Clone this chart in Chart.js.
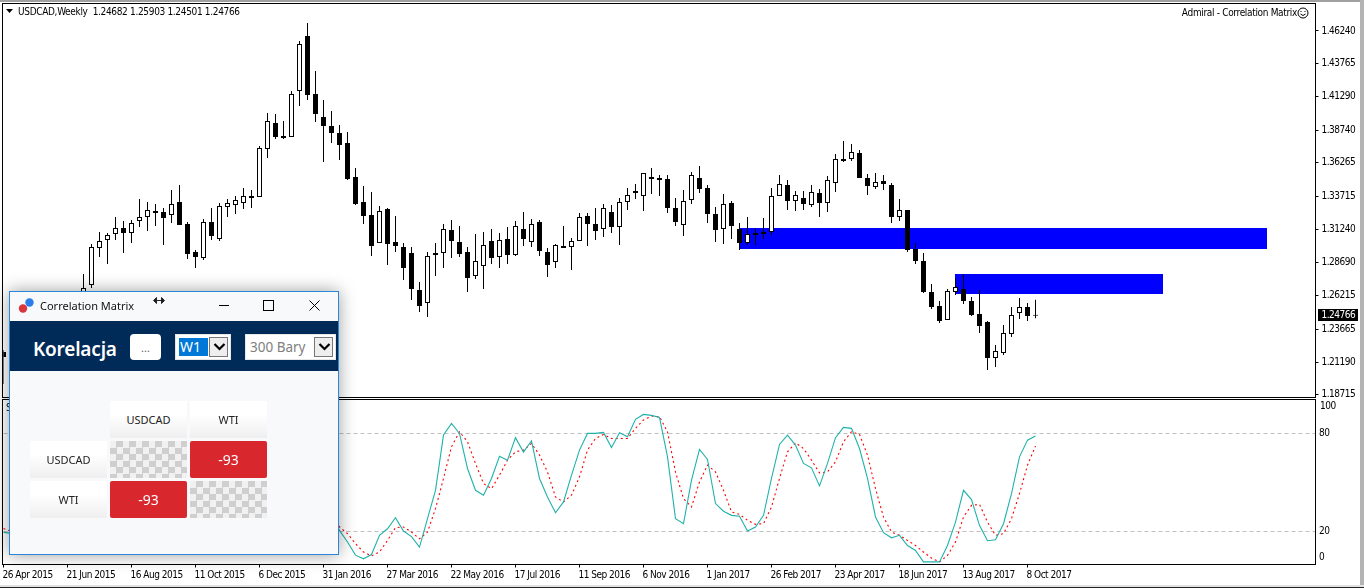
<!DOCTYPE html>
<html>
<head>
<meta charset="utf-8">
<title>USDCAD Weekly</title>
<script src="https://cdn.jsdelivr.net/npm/chart.js@4/dist/chart.umd.min.js"></script>
<style>
html,body{margin:0;padding:0;background:#fff;width:1364px;height:588px;overflow:hidden}
canvas{position:absolute;left:0}
#priceChart{top:0}
#stochChart{top:398px}
.edge{position:absolute}
.mt4{position:absolute;font:10px "DejaVu Sans Condensed","Liberation Sans",sans-serif;letter-spacing:-.33px;color:#000;white-space:pre;line-height:12px}
#dlg{position:absolute;left:9px;top:291px;width:328px;height:262px;border:1px solid #2a86d6;background:#f8f9fb;box-shadow:0 0 16px rgba(0,0,0,.38);font-family:"Noto Sans",sans-serif;overflow:hidden}
#dlg div,#dlg svg{position:absolute}
.hdr{background:#002a57}
.cell{width:77px;height:37px;line-height:37px;text-align:center;font-size:11px;color:#222;background:linear-gradient(#fff 35%,#efefef)}
.neg{background:#d9272e;color:#fff;font-size:14px;border-radius:2px}
.self{background:repeating-conic-gradient(#cfcfcf 0 25%,#f1f1f1 0 50%) 0 0/13px 13px}
.drop{background:#fff;border:1px solid #e6e6e6;box-sizing:border-box}
.arrow{background:#eee;border:1px solid #777;box-sizing:border-box;width:20px;height:20px}
</style>
</head>
<body>
<canvas id="priceChart" width="1364" height="400"></canvas>
<canvas id="stochChart" width="1364" height="186"></canvas>

<div class="edge" style="left:0;top:0;width:1364px;height:2px;background:#a0a0a0"></div>
<div class="edge" style="left:1360px;top:0;width:4px;height:585px;background:#b4b4b4"></div>
<div class="edge" style="left:0;top:585px;width:1364px;height:2px;background:#e2e2e2"></div>
<div class="edge" style="left:0;top:587px;width:1364px;height:1px;background:#222"></div>

<svg class="edge" style="left:6px;top:9px" width="8" height="5"><path d="M0 0H7L3.5 4Z" fill="#000"/></svg>
<div class="mt4" id="quote" style="left:18px;top:6px"></div>
<div class="mt4" id="robot" style="right:67px;top:7px"></div>
<svg class="edge" style="left:1297px;top:7px" width="12" height="12"><circle cx="6" cy="6" r="5" fill="none" stroke="#000"/><path d="M3.5 7Q6 10 8.500 7" fill="none" stroke="#000"/><path d="M4 4v1M8 4v1" stroke="#000"/></svg>
<div class="mt4" id="stochName" style="left:6px;top:402px"></div>

<div id="dlg"></div>

<script>
// USDCAD weekly bars, oldest first. First ones sit behind the dialog, so those are estimates
const opens = [1.21948,1.21948,1.22478,1.23234,1.22705,1.23612,1.24521,1.23915,1.24521,1.25580,
  1.24975,1.27018,1.29818,1.30423,1.30877,1.31332,1.30953,1.31861,1.32164,1.32618,
  1.32543,1.32316,1.33300,1.31634,1.29515,1.29061,1.31786,1.30499,1.32921,1.33073,
  1.33224,1.33753,1.33677,1.37310,1.39278,1.38294,1.38218,1.41699,1.45862,1.41472,
  1.39731,1.39051,1.38521,1.37764,1.35191,1.33300,1.32316,1.30196,1.32770,1.30272,
  1.29893,1.29440,1.26640,1.25656,1.29288,1.29440,1.31180,1.30272,1.29515,1.27699,
  1.28456,1.30347,1.29137,1.30499,1.29288,1.31256,1.30272,1.31786,1.29515,1.28758,
  1.29969,1.29893,1.30347,1.32240,1.31634,1.31256,1.32543,1.31407,1.33300,1.33980,
  1.33753,1.35040,1.34964,1.35040,1.32846,1.31559,1.33451,1.35116,1.34359,1.32391,
  1.31256,1.33224,1.31256,1.30196,1.30953,1.31029,1.31029,1.33753,1.34586,1.33375,
  1.33602,1.33073,1.33980,1.33224,1.34737,1.36553,1.36553,1.37007,1.35116,1.34434,
  1.34888,1.34586,1.32164,1.32694,1.29742,1.28834,1.26488,1.25429,1.24369,1.26488,
  1.26715,1.25807,1.24823,1.24218,1.21493,1.21872,1.23309,1.24899,1.25353,1.24682];
const highs = [1.22099,1.22856,1.23612,1.23764,1.24521,1.24975,1.24975,1.25504,1.26034,1.25883,
  1.27850,1.30120,1.31029,1.30953,1.32164,1.31861,1.31937,1.33526,1.33300,1.33148,
  1.32846,1.34207,1.34586,1.31786,1.29667,1.32013,1.32846,1.33224,1.33526,1.33753,
  1.34359,1.34207,1.37537,1.40034,1.39958,1.39429,1.41699,1.45483,1.46845,1.43213,
  1.41018,1.40186,1.39127,1.38597,1.35872,1.34510,1.34056,1.32997,1.32846,1.32240,
  1.30196,1.29893,1.27245,1.29515,1.30196,1.31634,1.31937,1.31483,1.29893,1.30877,
  1.31029,1.31256,1.30953,1.31407,1.31861,1.32543,1.32013,1.31937,1.29818,1.30120,
  1.31483,1.30575,1.32467,1.32467,1.32846,1.33148,1.33073,1.33602,1.34359,1.34661,
  1.35494,1.35872,1.35343,1.35343,1.33602,1.34207,1.35570,1.36024,1.34586,1.32921,
  1.33904,1.33375,1.31710,1.32164,1.31256,1.32089,1.34359,1.35343,1.34964,1.34131,
  1.34131,1.34586,1.34283,1.35267,1.36932,1.37915,1.37688,1.37234,1.35418,1.35494,
  1.35343,1.34737,1.33526,1.32694,1.30196,1.29440,1.27093,1.25807,1.26715,1.27547,
  1.27850,1.26110,1.26640,1.24293,1.22478,1.23991,1.25353,1.26034,1.25656,1.25903];
const lows = [1.19526,1.21493,1.22099,1.22251,1.22402,1.23158,1.23309,1.23612,1.24066,1.24218,
  1.24672,1.26791,1.29137,1.28607,1.30423,1.29440,1.30196,1.31407,1.31104,1.31483,
  1.30045,1.31710,1.31559,1.28985,1.28304,1.28910,1.30423,1.30347,1.32164,1.32391,
  1.32770,1.32846,1.33677,1.36630,1.38067,1.38067,1.38218,1.40564,1.41018,1.39353,
  1.36326,1.37764,1.36478,1.34964,1.33073,1.31634,1.29212,1.30196,1.28531,1.29515,
  1.27396,1.25883,1.24975,1.24596,1.27699,1.28304,1.29061,1.29137,1.26488,1.27472,
  1.26715,1.28607,1.28304,1.28607,1.29212,1.29969,1.29893,1.29212,1.27623,1.28304,
  1.29818,1.28153,1.30347,1.29969,1.30423,1.30650,1.30953,1.30045,1.32694,1.33526,
  1.32618,1.33904,1.33753,1.32467,1.31483,1.30726,1.33148,1.33980,1.31710,1.30272,
  1.30120,1.30499,1.29667,1.30045,1.30045,1.30499,1.30802,1.33753,1.32694,1.32618,
  1.32694,1.32921,1.32164,1.32543,1.34056,1.36326,1.36402,1.35116,1.33829,1.34283,
  1.34207,1.31710,1.31861,1.29515,1.28607,1.26413,1.25201,1.24142,1.24369,1.26261,
  1.25580,1.24672,1.23385,1.20585,1.20812,1.21721,1.23082,1.24445,1.24293,1.24501];
const closes = [1.21569,1.22705,1.23234,1.22705,1.23991,1.24521,1.23915,1.25126,1.25580,1.24975,
  1.26791,1.29893,1.30347,1.30802,1.31332,1.30953,1.31710,1.32164,1.32694,1.32467,
  1.32089,1.33148,1.31559,1.29364,1.29137,1.31786,1.30726,1.32997,1.33224,1.33451,
  1.33753,1.33602,1.37386,1.39429,1.38218,1.38143,1.41472,1.45256,1.41397,1.39958,
  1.39051,1.38521,1.37613,1.35040,1.33148,1.32240,1.29969,1.32618,1.30120,1.29969,
  1.28304,1.26715,1.25429,1.29212,1.29440,1.31256,1.30347,1.29364,1.27547,1.28834,
  1.30045,1.29061,1.30423,1.29288,1.31483,1.30499,1.31634,1.29591,1.28531,1.30045,
  1.29818,1.30347,1.32164,1.31634,1.31104,1.32846,1.31407,1.33300,1.33829,1.34131,
  1.35494,1.35191,1.35116,1.32846,1.31786,1.33375,1.35343,1.34283,1.32391,1.31180,
  1.33148,1.31483,1.30196,1.30877,1.30802,1.30877,1.33753,1.34661,1.33375,1.33829,
  1.33148,1.34056,1.33224,1.34964,1.36553,1.36402,1.37083,1.35116,1.34510,1.34813,
  1.34661,1.32164,1.32694,1.29667,1.28834,1.26488,1.25353,1.24293,1.26564,1.26867,
  1.25807,1.24748,1.23915,1.21493,1.22023,1.23385,1.24748,1.25353,1.24672,1.24766];

// stochastic main (teal) and signal (red), up to index 41 hidden behind the dialog
const stochMain = [19.6,19.0,30,45,60,72,80,76,70,74,82,90,88,85,84,80,72,68,74,78,70,66,60,42,34,40,48,60,70,75,80,82,85,90,92,88,90,91,80,62,48,32,
  20.8,13.7,5.7,3.5,6.1,17.8,21.8,28.6,20.4,17.0,10.6,28.0,45.3,79.0,86.1,80.0,58.6,45.3,42.3,52.5,66.1,63.7,77.4,68.6,75.5,52.5,41.2,31.6,38.2,54.5,69.8,80.0,80.0,80.6,71.4,80.4,78.0,88.6,91.6,91.0,89.8,65.7,28.0,24.9,51.5,70.2,
  64.1,37.2,32.5,30.0,29.4,20.4,22.9,30.0,52.5,73.3,79.0,72.9,61.7,59.0,48.0,61.7,77.4,83.7,83.1,70.8,52.5,29.0,19.4,16.3,17.8,11.6,8.6,1.6,1.6,1.6,11.6,25.9,45.3,39.6,23.9,14.5,15.1,24.9,43.3,65.7,75.9,78.4];
const stochSignal = [22,20,24,32,45,60,70,76,75,73,75,82,88,88,86,84,79,73,71,73,74,72,66,56,45,38,41,49,59,68,75,79,82,85,89,90,90,90,87,78,63,45,
  22.9,18.8,12.7,7.6,5.3,7.6,14.7,22.5,22.9,19.8,15.7,19.8,34.1,52.5,71.9,81.0,74.9,61.7,49.4,46.3,54.5,63.7,68.8,69.8,73.9,66.8,56.5,41.2,38.2,42.3,53.5,69.8,76.9,79.4,76.9,76.9,76.9,83.1,88.2,90.6,90.2,81.0,56.5,40.2,35.1,50.4,
  60.6,56.5,45.3,32.1,30.6,27.0,24.5,24.9,35.1,52.5,68.8,74.3,70.8,63.7,55.9,56.5,62.7,74.9,81.0,79.4,66.8,46.3,29.0,19.8,17.8,14.7,11.6,7.6,3.9,1.6,5.5,13.7,29.0,36.1,36.7,25.9,17.8,18.8,28.0,43.3,60.6,72.3];

// blue supply zones: bar index from/to and price top/bottom
const zoneFrom = [92,119];
const zoneTo = [158,145];
const zoneTop = [1.31332,1.27850];
const zoneBottom = [1.29742,1.26337];

const priceTicks = [1.46240,1.43765,1.41290,1.38740,1.36265,1.33715,1.31240,1.28690,1.26215,1.23665,1.21190,1.18715];
const stochLevels = [0,20,80,100];

const symbol = 'USDCAD,Weekly';
const robotName = 'Admiral - Correlation Matrix';
const corrSymbols = ['USDCAD','WTI'];
const corrValues = [[null,-93],[-93,null]];

const axisFont = {family:'"DejaVu Sans Condensed","Liberation Sans",sans-serif', size:10};
const totalWeeks = 165;   // 130 bars + empty space on the right
const monthNames = ['Jan','Feb','Mar','Apr','May','Jun','Jul','Aug','Sep','Oct','Nov','Dec'];

// weekly dates from 26 Apr 2015
const weeks = [];
for(let i = 0; i < totalWeeks; i++){
    const d = new Date(Date.UTC(2015, 3, 26 + i*7));
    weeks.push(d.getUTCDate() + ' ' + monthNames[d.getUTCMonth()] + ' ' + d.getUTCFullYear());
}

// terminal font is narrower than anything installed, tighten it a bit
const tightTextPlugin = {
    id: 'tightText',
    beforeDraw(chart){ chart.ctx.letterSpacing = '-0.5px'; }
};

const framePlugin = {
    id: 'frame',
    afterDraw(chart){
        const a = chart.chartArea, ctx = chart.ctx;
        ctx.save();
        ctx.strokeStyle = '#000';
        ctx.lineWidth = 1;
        ctx.strokeRect(a.left - 1, a.top, a.right - a.left + 1, a.bottom - a.top);
        ctx.restore();
    }
};

const zonePlugin = {
    id: 'zones',
    beforeDatasetsDraw(chart){
        const x = chart.scales.x, y = chart.scales.y, ctx = chart.ctx;
        ctx.save();
        ctx.fillStyle = '#0000ff';
        zoneFrom.forEach((from, i) => {
            const left = Math.floor(x.getPixelForValue(from));
            const right = Math.floor(x.getPixelForValue(zoneTo[i]));
            const top = y.getPixelForValue(zoneTop[i]);
            ctx.fillRect(left, top, right - left, y.getPixelForValue(zoneBottom[i]) - top);
        });
        ctx.restore();
    }
};

// black box with the last price on the axis
const lastPricePlugin = {
    id: 'lastPrice',
    afterDraw(chart){
        const ctx = chart.ctx;
        const last = closes[closes.length - 1];
        const py = Math.round(chart.scales.y.getPixelForValue(last));
        ctx.save();
        ctx.fillStyle = '#000';
        ctx.fillRect(1318, py - 6, 40, 12);
        ctx.fillStyle = '#fff';
        ctx.font = axisFont.size + 'px ' + axisFont.family;
        ctx.textBaseline = 'middle';
        ctx.fillText(last.toFixed(5), 1321.5, py);
        ctx.restore();
    }
};

// MT4 keeps 0 and 100 inside the pane, so these labels are placed by hand
const levelLabelPlugin = {
    id: 'levelLabels',
    afterDraw(chart){
        const ctx = chart.ctx, a = chart.chartArea;
        ctx.save();
        ctx.fillStyle = '#000';
        ctx.font = axisFont.size + 'px ' + axisFont.family;
        ctx.textBaseline = 'middle';
        stochLevels.forEach(v => {
            const py = Math.min(Math.max(chart.scales.y.getPixelForValue(v), a.top + 7), a.bottom - 7);
            ctx.fillText(String(v), v === 100 ? 1320 : 1319, py);
        });
        ctx.restore();
    }
};

new Chart(document.getElementById('priceChart').getContext('2d'), {
    type: 'bar',
    data: {
        labels: weeks,
        datasets: [{
            label: 'wick',
            data: highs.map((h, i) => [lows[i], h]),
            backgroundColor: '#000',
            barThickness: 1,
            grouped: false,
            inflateAmount: 0,
            order: 2
        },{
            label: 'body',
            data: opens.map((o, i) => [o, closes[i]]),
            backgroundColor: opens.map((o, i) => closes[i] >= o ? '#fff' : '#000'),
            borderColor: '#000',
            borderWidth: 1,
            borderSkipped: false,
            barThickness: 5,
            grouped: false,
            inflateAmount: 0,
            order: 1
        }]
    },
    options: {
        responsive: false,
        animation: false,
        devicePixelRatio: 1,
        layout: {padding: {left: 3.5, top: 3.5, right: 0, bottom: 2.5}},
        plugins: {legend: {display: false}, tooltip: {enabled: false}},
        scales: {
            x: {display: false, offset: false},
            y: {
                position: 'right',
                min: 1.18504,
                max: 1.48321,
                afterFit(s){ s.width = 48.5; s.paddingTop = 0; s.paddingBottom = 0; },
                afterBuildTicks(s){ s.ticks = priceTicks.map(v => ({value: v})); },
                grid: {drawOnChartArea: false, tickLength: 3, color: '#000'},
                border: {display: false},
                ticks: {
                    color: '#000', font: axisFont, padding: 3, autoSkip: false,
                    callback: v => Number(v).toFixed(5)
                }
            }
        }
    },
    plugins: [tightTextPlugin, zonePlugin, framePlugin, lastPricePlugin]
});

new Chart(document.getElementById('stochChart').getContext('2d'), {
    type: 'line',
    data: {
        labels: weeks,
        datasets: [{
            label: 'main',
            data: stochMain,
            borderColor: '#20b2aa',
            borderWidth: 1.1,
            pointRadius: 0,
            tension: 0
        },{
            label: 'signal',
            data: stochSignal,
            borderColor: '#ff0000',
            borderWidth: 1.1,
            borderDash: [2, 3],
            pointRadius: 0,
            tension: 0
        }]
    },
    options: {
        responsive: false,
        animation: false,
        devicePixelRatio: 1,
        layout: {padding: {left: 3.5, top: 1.5, right: 0, bottom: 0}},
        plugins: {legend: {display: false}, tooltip: {enabled: false}},
        scales: {
            x: {
                offset: false,
                afterFit(s){ s.height = 19.5; s.paddingLeft = 0; s.paddingRight = 0; },
                afterBuildTicks(s){ s.ticks = s.ticks.filter(t => t.value % 8 === 0 && t.value <= 128); },
                grid: {drawOnChartArea: false, tickLength: 3, color: '#000'},
                border: {display: false},
                ticks: {color: '#000', font: axisFont, padding: 2, autoSkip: false, maxRotation: 0, align: 'start', labelOffset: -1}
            },
            y: {
                position: 'right',
                min: 0,
                max: 100.7,
                afterFit(s){ s.width = 48.5; s.paddingTop = 0; s.paddingBottom = 0; },
                afterBuildTicks(s){ s.ticks = [{value: 20}, {value: 80}]; },
                grid: {
                    color: '#c0c0c0',
                    drawTicks: false
                },
                border: {display: false, dash: [4, 3]},
                ticks: {display: false}
            }
        }
    },
    plugins: [tightTextPlugin, framePlugin, levelLabelPlugin]
});

document.getElementById('quote').textContent = symbol + '  ' +
    [opens.at(-1), highs.at(-1), lows.at(-1), closes.at(-1)].map(v => v.toFixed(5)).join(' ');
document.getElementById('robot').textContent = robotName;
document.getElementById('stochName').textContent = 'S';

// the Correlation Matrix window over the chart
function box(cls, left, top, w, h, txt, extra){
    const el = document.createElement('div');
    el.className = cls;
    el.style.cssText = `left:${left}px;top:${top}px;width:${w}px;height:${h}px;` + (extra || '');
    if(txt) el.textContent = txt;
    document.getElementById('dlg').appendChild(el);
    return el;
}
const chevron = '<svg style="left:3px;top:4px" width="13" height="10"><path d="M1.500 2L6.500 7L11.500 2" fill="none" stroke="#000" stroke-width="2.200"/></svg>';

document.getElementById('dlg').innerHTML =
    '<svg style="left:8px;top:3px" width="24" height="22"><circle cx="11.500" cy="7.500" r="4.200" fill="#2b7de9"/><circle cx="5" cy="13.500" r="4.200" fill="#d9363e"/></svg>' +
    '<svg style="left:142px;top:4px" width="14" height="10"><path d="M2 4.500H12M4.500 1.500L1.500 4.500L4.500 7.500ZM9.500 1.500L12.500 4.500L9.500 7.500Z" stroke="#222" fill="#222"/></svg>' +
    '<svg style="left:204px;top:6px" width="115" height="16"><path d="M5 7.500H15" stroke="#000"/><rect x="49.500" y="2.500" width="10" height="10" fill="none" stroke="#000"/><path d="M95.500 2.500L105.500 12.500M105.500 2.500L95.500 12.500" stroke="#000"/></svg>';

box('', 30, 4, 110, 20, 'Correlation Matrix', 'font-size:11px;line-height:20px;color:#111');
box('hdr', 0, 29, 328, 50);
box('', 23, 42, 100, 30, 'Korelacja', 'font-size:19px;font-weight:600;letter-spacing:-.2px;line-height:30px;color:#fff');
box('', 120, 42, 31, 26, '...', 'background:#fff;border-radius:4px;text-align:center;font-size:11px;line-height:27px;color:#666');

box('drop', 165, 42, 56, 26);
box('', 169, 46, 29, 18, 'W1', 'background:#0078d7;color:#fff;font-size:14px;line-height:18px;padding-left:1px;box-sizing:border-box');
box('arrow', 199, 45, 19, 20).innerHTML = chevron;
box('drop', 235, 42, 91, 26);
box('', 240, 45, 70, 20, '300 Bary', 'color:#808080;font-size:13.500px;line-height:20px');
box('arrow', 304, 45, 19, 20).innerHTML = chevron;

// header row, row labels and the matrix cells
corrSymbols.forEach((name, c) => {
    box('cell', 100 + c*80, 109, 77, 37, name);
    box('cell', 20, 149 + c*40, 77, 37, name);
    corrValues[c].forEach((v, k) => {
        const left = 100 + k*80, top = 149 + c*40;
        if(v === null) box('cell self', left, top, 77, 37);
        else box('cell neg', left, top, 77, 37, String(v));
    });
});
</script>
</body>
</html>
